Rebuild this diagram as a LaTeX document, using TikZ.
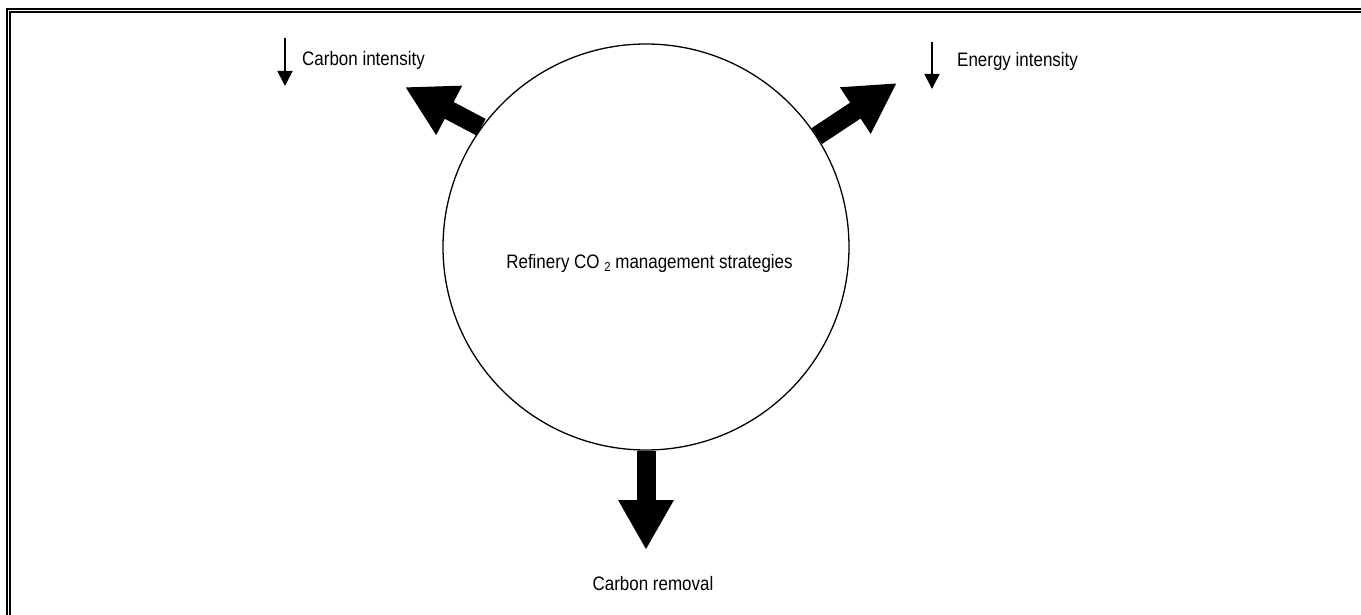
\documentclass[tikz,border=0pt]{standalone}
\usepackage{fontspec}
\setmainfont[FakeStretch=0.87]{Liberation Sans}
\usetikzlibrary{arrows.meta}
\tikzset{
  frameline/.style={line width=2pt},
  hub/.style={circle, draw, line width=1.3pt, minimum size=406pt, inner sep=0pt},
  lbl/.style={inner sep=0pt, font=\fontsize{19.5}{22}\selectfont},
  bigarrow/.style={line width=19pt, -{Triangle[length=50pt,width=52pt]}},
  smallarrow/.style={line width=1.5pt, -{Triangle[length=15pt,width=15pt]}}
}
\begin{document}
\begin{tikzpicture}[x=1pt,y=-1pt]
\useasboundingbox (0,0) rectangle (1361,615);
\clip (0,0) rectangle (1361,615);
% double frame (top and left visible)
\draw[frameline] (7,640) -- (7,9) -- (1380,9);
\draw[frameline] (10.3,640) -- (10.3,12.3) -- (1380,12.3);
% central circle
\node[hub] (c) at (646,247) {};
\node[lbl, anchor=base] (lab) at (649.5,268) {Refinery CO \raisebox{-0.35ex}{\fontsize{13}{13}\selectfont 2} management strategies};
% big arrows
\coordinate (tl) at (405,87);
\coordinate (tr) at (897,83);
\coordinate (tb) at (646,550);
\draw[bigarrow] (c.144.4) -- (tl);
\draw[bigarrow] (c.33.1) -- (tr);
\draw[bigarrow] (c.-90) -- (tb);
% small arrows and labels
\coordinate (s1a) at (285,38);
\coordinate (s1b) at (285,86);
\coordinate (s2a) at (932,42);
\coordinate (s2b) at (932,89);
\draw[smallarrow] (s1a) -- (s1b);
\draw[smallarrow] (s2a) -- (s2b);
\node[lbl, anchor=base west] (ci) at (302,66) {Carbon intensity};
\node[lbl, anchor=base west] (ei) at (957,67) {Energy intensity};
\node[lbl, anchor=base] (cr) at (653,590) {Carbon removal};
\end{tikzpicture}
\end{document}
